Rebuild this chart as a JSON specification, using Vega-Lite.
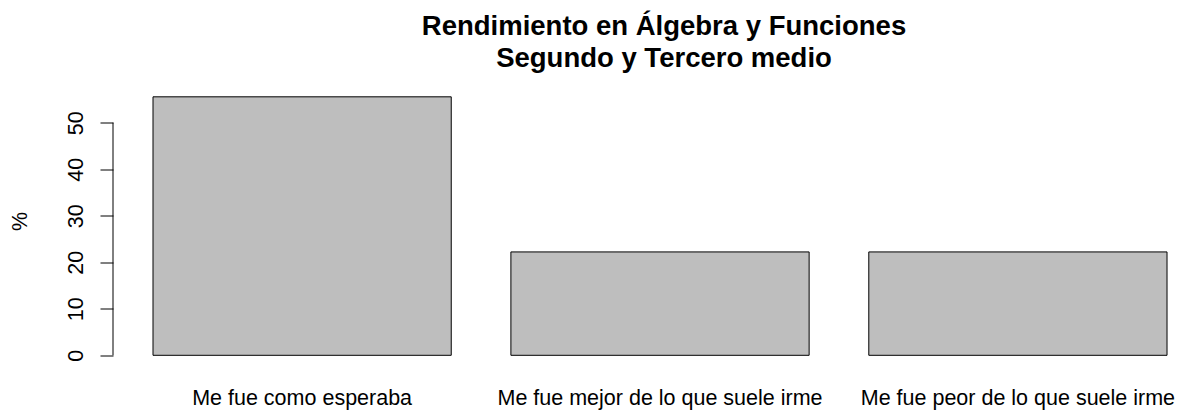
{
  "$schema": "https://vega.github.io/schema/vega-lite/v6.json",
  "width": 1072,
  "height": 268.8,
  "autosize": {"type": "none"},
  "padding": {"left": 113, "top": 86.5, "right": 0, "bottom": 55.7},
  "background": "white",
  "config": {
    "view": {"stroke": null},
    "font": "Liberation Sans"
  },
  "title": {
    "text": ["Rendimiento en Álgebra y Funciones", "Segundo y Tercero medio"],
    "font": "Liberation Sans",
    "fontSize": 27.5,
    "fontWeight": "bold",
    "lineHeight": 32,
    "anchor": "middle",
    "baseline": "alphabetic",
    "dx": 15,
    "offset": -8,
    "color": "black"
  },
  "layer": [
    {
      "data": {
        "values": [
          {"categoria": "Me fue como esperaba", "pct": 55.56},
          {"categoria": "Me fue mejor de lo que suele irme", "pct": 22.22},
          {"categoria": "Me fue peor de lo que suele irme", "pct": 22.22}
        ]
      },
      "mark": {"type": "bar", "fill": "#BEBEBE", "stroke": "black", "strokeWidth": 1},
      "encoding": {
        "x": {
          "field": "categoria",
          "type": "nominal",
          "sort": null,
          "scale": {"paddingInner": 0.1667, "paddingOuter": 0.081, "align": 0.69},
          "axis": {
            "title": null,
            "labelAngle": 0,
            "ticks": false,
            "tickSize": 0,
            "domain": false,
            "labelFont": "Liberation Sans",
            "labelFontSize": 21.5,
            "labelColor": "black",
            "labelBaseline": "alphabetic",
            "labelPadding": 48.7,
            "labelLimit": 0,
            "labelOverlap": false
          }
        },
        "y": {
          "field": "pct",
          "type": "quantitative",
          "scale": {"domain": [0, 57.78], "nice": false, "zero": false},
          "axis": {
            "title": "%",
            "titleFont": "Liberation Sans",
            "titleFontSize": 21.5,
            "titleFontWeight": "normal",
            "titleColor": "black",
            "titleAngle": -90,
            "titleAlign": "center",
            "titleBaseline": "middle",
            "titleX": -92.5,
            "values": [0, 10, 20, 30, 40, 50],
            "domain": false,
            "grid": false,
            "tickSize": 13,
            "tickColor": "black",
            "tickWidth": 1,
            "labelAngle": -90,
            "labelAlign": "center",
            "labelBaseline": "alphabetic",
            "labelPadding": 18,
            "labelFont": "Liberation Sans",
            "labelFontSize": 21.5,
            "labelColor": "black"
          }
        }
      }
    },
    {
      "data": {"values": [{"lo": 0, "hi": 50, "pos": 0}]},
      "mark": {"type": "rule", "color": "black", "strokeWidth": 1},
      "encoding": {
        "x": {"field": "pos", "type": "quantitative", "scale": {"domain": [0, 1]}, "axis": null},
        "y": {"field": "lo", "type": "quantitative"},
        "y2": {"field": "hi"}
      }
    }
  ],
  "resolve": {"scale": {"x": "independent"}}
}
